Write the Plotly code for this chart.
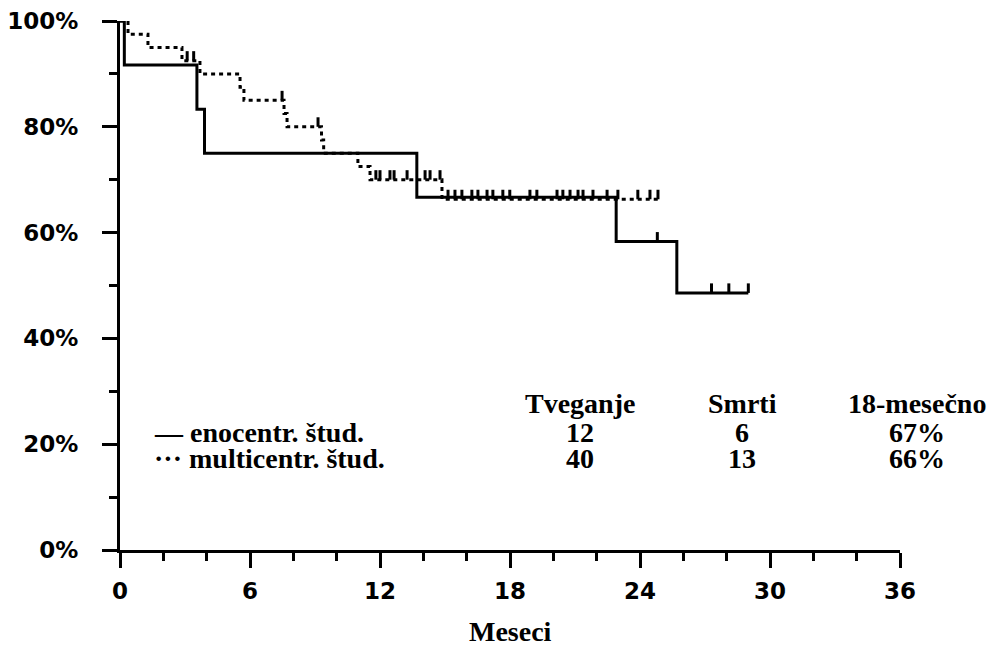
import plotly.graph_objects as go

# ---- data ----
# enocentrična študija (solid line): step times (months) and survival (%)
solid_t = [0, 0.2, 3.55, 3.9, 13.7, 22.9, 25.7, 29.0]
solid_s = [100, 91.7, 83.3, 75.0, 66.7, 58.3, 48.6, 48.6]
solid_cens_t = [24.8, 27.3, 28.1, 29.0]
solid_cens_s = [58.3, 48.6, 48.6, 48.6]

# multicentrična študija (dotted line)
multi_t = [0, 0.37, 1.29, 2.86, 3.69, 5.54, 5.72, 7.57, 7.71, 9.3, 9.4, 10.98, 11.54, 14.86, 24.83]
multi_s = [100, 97.5, 95, 92.5, 90, 87.5, 85, 82.5, 80, 77.5, 75, 72.5, 70, 66.3, 66.3]
multi_cens_t = [3.1, 3.4, 7.48, 9.14, 11.81, 12.0, 12.46, 12.65, 13.25, 14.08, 14.31, 14.77,
                15.14, 15.46, 15.78, 16.24, 16.52, 16.94, 17.21, 17.67, 17.99, 18.92, 19.24,
                20.17, 20.44, 20.77, 21.14, 21.37, 21.83, 22.48, 22.98, 23.9, 24.46, 24.83]
multi_cens_s = [92.5, 92.5, 85, 80, 70, 70, 70, 70, 70, 70, 70, 70,
                66.3, 66.3, 66.3, 66.3, 66.3, 66.3, 66.3, 66.3, 66.3, 66.3, 66.3,
                66.3, 66.3, 66.3, 66.3, 66.3, 66.3, 66.3, 66.3, 66.3, 66.3, 66.3]

x_ticks = [0, 6, 12, 18, 24, 30, 36]
y_ticks = [0, 20, 40, 60, 80, 100]
y_tick_labels = ["0%", "20%", "40%", "60%", "80%", "100%"]
x_title = "Meseci"

table_header = ["Tveganje", "Smrti", "18-mesečno"]
series_names = ["— enocentr. štud.", "··· multicentr. štud."]
at_risk = ["12", "40"]
deaths = ["6", "13"]
surv18 = ["67%", "66%"]

TICK = 1.8  # censor tick height in % units (style)


def censor_path(ts, ss):
    xs, ys = [], []
    for t, s in zip(ts, ss):
        xs += [t, t, None]
        ys += [s, s + TICK, None]
    return xs, ys


fig = go.Figure()

fig.add_trace(go.Scatter(x=multi_t, y=multi_s, mode="lines", line_shape="hv",
                         line=dict(color="black", width=3, dash="4px,4px"),
                         showlegend=False, hoverinfo="skip"))
cx, cy = censor_path(multi_cens_t, multi_cens_s)
fig.add_trace(go.Scatter(x=cx, y=cy, mode="lines", line=dict(color="black", width=3),
                         showlegend=False, hoverinfo="skip"))

fig.add_trace(go.Scatter(x=solid_t, y=solid_s, mode="lines", line_shape="hv",
                         line=dict(color="black", width=3),
                         showlegend=False, hoverinfo="skip"))
cx, cy = censor_path(solid_cens_t, solid_cens_s)
fig.add_trace(go.Scatter(x=cx, y=cy, mode="lines", line=dict(color="black", width=3),
                         showlegend=False, hoverinfo="skip"))

tick_font = dict(family="DejaVu Sans", size=23, color="black", weight="bold")
serif = dict(family="Liberation Serif, Times New Roman, serif", size=28, color="black", weight="bold")

# page body has an 8px default margin -> figure is 8px smaller and shifted
fig.update_layout(
    width=989, height=639,
    margin=dict(l=112, r=97, t=13, b=97, autoexpand=False),
    paper_bgcolor="white", plot_bgcolor="white",
    xaxis=dict(range=[0, 36], tickvals=x_ticks, ticktext=[str(v) for v in x_ticks],
               automargin=False,
               showgrid=False, zeroline=False, showline=True, linecolor="black", linewidth=3,
               ticks="outside", ticklen=15, tickwidth=3, tickcolor="black",
               tickfont=tick_font, ticklabelstandoff=3,
               minor=dict(dtick=2, ticks="outside", ticklen=8, tickwidth=3, tickcolor="black",
                          showgrid=False)),
    yaxis=dict(range=[0, 100], tickvals=y_ticks, ticktext=y_tick_labels,
               automargin=False,
               showgrid=False, zeroline=False, showline=True, linecolor="black", linewidth=3,
               ticks="outside", ticklen=15, tickwidth=3, tickcolor="black",
               tickfont=tick_font, ticklabelstandoff=19,
               minor=dict(dtick=10, ticks="outside", ticklen=8, tickwidth=3, tickcolor="black",
                          showgrid=False)),
)


def px_x(px):
    return (px - 120) / 780.0


def px_y(py):
    return (550 - py) / 529.0


# x-axis title
fig.add_annotation(x=px_x(510), y=px_y(631), xref="paper", yref="paper", text=x_title,
                   showarrow=False, font=serif, xanchor="center", yanchor="middle",
                   borderpad=0)

# table annotations
col_x = [580, 742, 917]
row_y = [403, 432, 458]

for cx_, h in zip(col_x, table_header):
    fig.add_annotation(x=px_x(cx_), y=px_y(row_y[0]), xref="paper", yref="paper",
                       text=h, showarrow=False, font=serif, xanchor="center", yanchor="middle",
                       borderpad=0)

for i in range(2):
    fig.add_annotation(x=px_x(153), y=px_y(row_y[i + 1]), xref="paper", yref="paper",
                       text=series_names[i], showarrow=False, font=serif,
                       xanchor="left", yanchor="middle", borderpad=0)
    for cx_, val in zip(col_x, [at_risk[i], deaths[i], surv18[i]]):
        fig.add_annotation(x=px_x(cx_), y=px_y(row_y[i + 1]), xref="paper", yref="paper",
                           text=val, showarrow=False, font=serif,
                           xanchor="center", yanchor="middle", borderpad=0)

fig.write_html("out.html")
